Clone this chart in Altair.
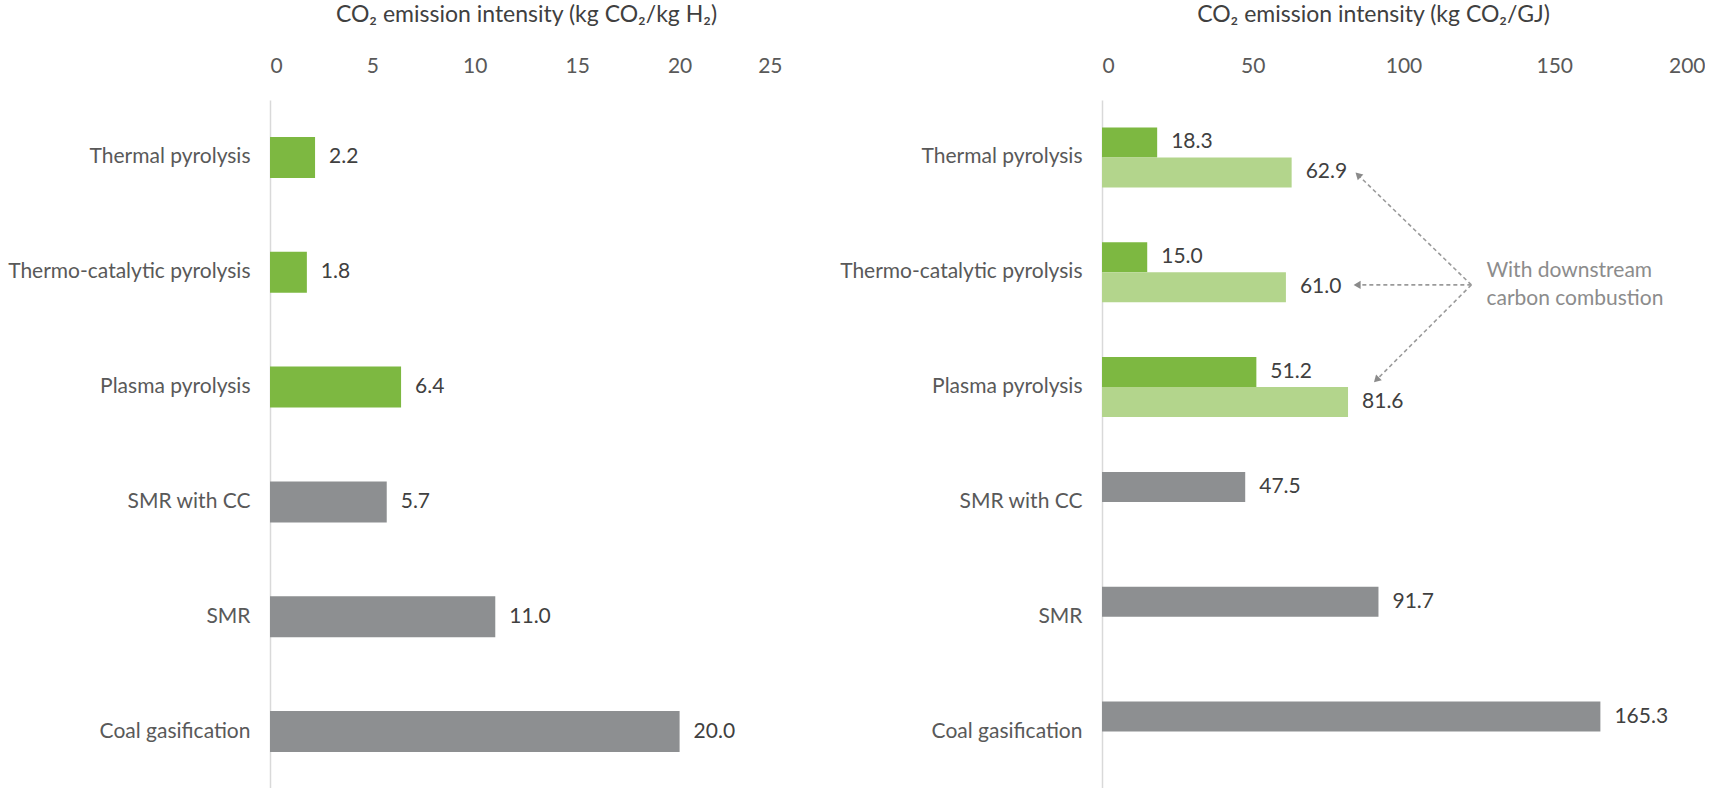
import math
import altair as alt
import pandas as pd

# ---------------- data ----------------
categories = ["Thermal pyrolysis", "Thermo-catalytic pyrolysis", "Plasma pyrolysis",
              "SMR with CC", "SMR", "Coal gasification"]
is_pyrolysis = [True, True, True, False, False, False]
kg_per_kg_h2 = [2.2, 1.8, 6.4, 5.7, 11.0, 20.0]
kg_per_gj = [18.3, 15.0, 51.2, 47.5, 91.7, 165.3]
kg_per_gj_with_combustion = [62.9, 61.0, 81.6, None, None, None]
left_ticks = [0, 5, 10, 15, 20, 25]
right_ticks = [0, 50, 100, 150, 200]
left_title = "CO\u2082 emission intensity (kg CO\u2082/kg H\u2082)"
right_title = "CO\u2082 emission intensity (kg CO\u2082/GJ)"
annotation_lines = ["With downstream", "carbon combustion"]
annotation_x = [127.5, 127.5]
annotation_y = [1.49, 1.73]          # in category-row units (0 = top of first row)
arrow_origin_x = 122.5
arrow_origin_y = 1.61
arrow_tip_x = [85.2, 85.0, 91.3]
arrow_tip_y = [0.66, 1.61, 2.43]

# ---------------- style ----------------
FONT = "Lato"
FS = 21
GREEN = "#7DB841"
LIGHT = "#B3D58C"
GRAY = "#8D8F91"
LABEL = "#595959"
VALUE = "#404040"
W_L, W_R, H = 512, 603, 689

color_scale = alt.Scale(domain=["pyro", "conv", "comb"], range=[GREEN, GRAY, LIGHT])

def y_axis():
    return alt.Axis(title=None, ticks=False, domain=True, domainColor="#D9D9D9",
                    domainWidth=1.5, grid=False, labelFont=FONT, labelFontSize=FS,
                    labelColor=LABEL, labelPadding=20, labelLimit=400)

def x_axis(title, ticks, title_x):
    return alt.Axis(orient="top", title=title, values=ticks, grid=False, ticks=False,
                    domain=False, labelFont=FONT, labelFontSize=FS, labelColor=LABEL,
                    labelPadding=24, titleFont=FONT, titleFontSize=23,
                    titleFontWeight="normal", titleColor=VALUE, titlePadding=29,
                    titleX=title_x, titleAlign="center")

# ---------------- left panel ----------------
left_df = pd.DataFrame({
    "category": categories,
    "value": kg_per_kg_h2,
    "kind": ["pyro" if p else "conv" for p in is_pyrolysis],
})
xs_left = alt.Scale(domain=[0, 25], nice=False)
ys_left = alt.Scale(domain=categories, paddingInner=0.643, paddingOuter=0.3215)
left_base = alt.Chart(left_df).encode(
    y=alt.Y("category:N", sort=categories, scale=ys_left, axis=y_axis()),
    x=alt.X("value:Q", scale=xs_left, axis=x_axis(left_title, left_ticks, W_L / 2)),
)
left_bars = left_base.mark_bar().encode(
    color=alt.Color("kind:N", scale=color_scale, legend=None))
left_text = left_base.mark_text(align="left", dx=14, font=FONT, fontSize=FS,
                                color=VALUE).encode(text=alt.Text("value:Q", format=".1f"))
left = alt.layer(left_bars, left_text).properties(width=W_L, height=H)

# ---------------- right panel ----------------
rows = []
for c, v, p in zip(categories, kg_per_gj, is_pyrolysis):
    rows.append({"category": c, "series": "base", "value": v, "kind": "pyro" if p else "conv"})
for c, v in zip(categories, kg_per_gj_with_combustion):
    if v is not None:
        rows.append({"category": c, "series": "comb", "value": v, "kind": "comb"})
right_df = pd.DataFrame(rows)

xs_right = alt.Scale(domain=[0, 200], nice=False)
xaxis_right = x_axis(right_title, right_ticks, 271)
ys_right = alt.Scale(domain=categories, paddingInner=0.477, paddingOuter=0.2385)
yoff = alt.YOffset("series:N", scale=alt.Scale(domain=["base", "comb"], paddingInner=0,
                                                paddingOuter=0))
right_base = alt.Chart(right_df).encode(
    y=alt.Y("category:N", sort=categories, scale=ys_right, axis=y_axis()),
    yOffset=yoff,
    x=alt.X("value:Q", scale=xs_right, axis=xaxis_right),
)
right_bars = right_base.mark_bar().encode(
    color=alt.Color("kind:N", scale=color_scale, legend=None))
right_text = right_base.mark_text(align="left", dx=14, font=FONT, fontSize=FS,
                                  color=VALUE).encode(text=alt.Text("value:Q", format=".1f"))
right_main = alt.layer(right_bars, right_text)

# annotation (row-unit quantitative y, independent of the band scale)
ys_rows = alt.Scale(domain=[0, 6], reverse=True, nice=False, zero=False)
px_x = W_R / 200.0
px_y = H / 6.0
angles = []
for tx, ty in zip(arrow_tip_x, arrow_tip_y):
    dx = (tx - arrow_origin_x) * px_x
    dy = (ty - arrow_origin_y) * px_y
    angles.append(math.degrees(math.atan2(dx, -dy)) % 360)
arrow_df = pd.DataFrame({
    "x0": [arrow_origin_x] * len(arrow_tip_x), "y0": [arrow_origin_y] * len(arrow_tip_x),
    "x1": arrow_tip_x, "y1": arrow_tip_y, "ang": angles,
})
rules = alt.Chart(arrow_df).mark_rule(color="#9A9A9A", strokeWidth=1.6,
                                      strokeDash=[4, 3]).encode(
    x=alt.X("x0:Q", scale=xs_right, axis=xaxis_right), x2="x1:Q",
    y=alt.Y("y0:Q", scale=ys_rows, axis=None), y2="y1:Q")
heads = alt.Chart(arrow_df).mark_point(shape="triangle", filled=True, size=65,
                                       color="#8A8A8A", opacity=1).encode(
    x=alt.X("x1:Q", scale=xs_right, axis=xaxis_right),
    y=alt.Y("y1:Q", scale=ys_rows, axis=None),
    angle=alt.Angle("ang:Q", scale=None))
ann_df = pd.DataFrame({"x": annotation_x, "y": annotation_y, "t": annotation_lines})
ann = alt.Chart(ann_df).mark_text(align="left", baseline="middle", font=FONT,
                                  fontSize=FS, color="#8C8C8C").encode(
    x=alt.X("x:Q", scale=xs_right, axis=xaxis_right),
    y=alt.Y("y:Q", scale=ys_rows, axis=None),
    text="t:N")
right_ann = alt.layer(rules, heads, ann)

right = alt.layer(right_main, right_ann).resolve_scale(
    y="independent").properties(width=W_R, height=H)

chart = alt.hconcat(left, right, spacing=320, bounds="flush").properties(
    padding={"left": 7, "top": 3, "right": 0, "bottom": 0},
    background="white",
).configure_view(stroke=None)

chart.save("out.html", embed_options={"renderer": "svg", "actions": False})
